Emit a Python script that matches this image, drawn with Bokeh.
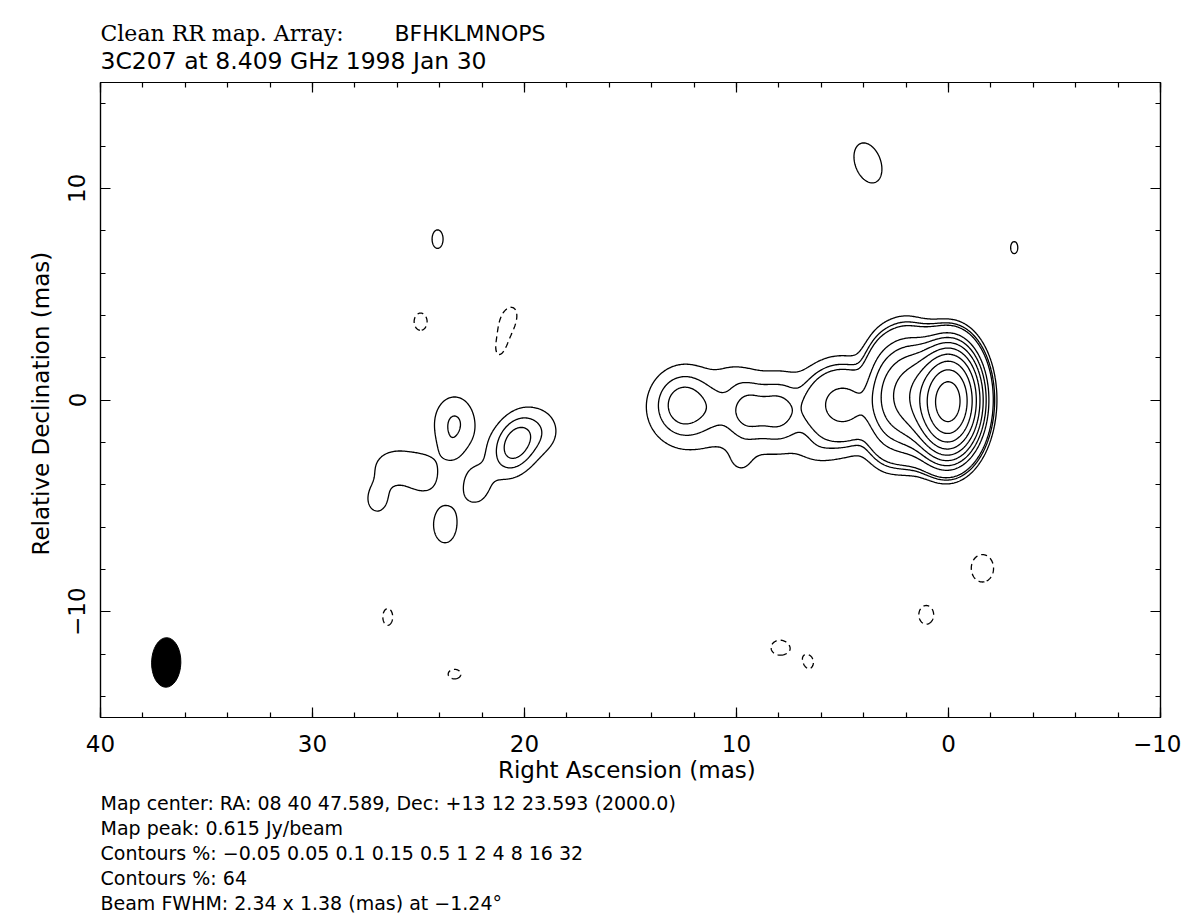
import numpy as np
from bokeh.plotting import figure
from bokeh.layouts import column
from bokeh.models import Range1d, LinearAxis, SingleIntervalTicker
from bokeh.core.properties import value
from bokeh.embed import file_html
from bokeh.resources import INLINE

# ---------------- data ----------------
TITLE_1A = "Clean RR map.  Array:"
TITLE_1B = "BFHKLMNOPS"
TITLE_2 = "3C207 at 8.409 GHz 1998 Jan 30"
FOOTER = [
    "Map center:  RA: 08 40 47.589,  Dec: +13 12 23.593 (2000.0)",
    "Map peak: 0.615 Jy/beam",
    "Contours %: \u22120.05 0.05 0.1 0.15 0.5 1 2 4 8 16 32",
    "Contours %: 64",
    "Beam FWHM: 2.34 x 1.38 (mas) at \u22121.24\u00b0",
]
X_LABEL = "Right Ascension  (mas)"
Y_LABEL = "Relative Declination  (mas)"

X_RANGE = (40, -10)
Y_RANGE = (-15, 15)
X_TICKS = [40, 30, 20, 10, 0, -10]
X_TICK_LABELS = ["40", "30", "20", "10", "0", "\u221210"]
Y_TICKS = [10, 0, -10]
Y_TICK_LABELS = ["10", "0", "\u221210"]

# contour levels, % of map peak
POS_LEVELS = [0.05, 0.1, 0.15, 0.5, 1, 2, 4, 8, 16, 32, 64]
NEG_LEVELS = [-0.05]

# restoring beam
BEAM_MAJ = 2.34
BEAM_MIN = 1.38
BEAM_PA = -1.24
BEAM_X = 36.9
BEAM_Y = -12.4

# brightness components of the map (mas, % of peak, FWHM mas, PA deg)
COMP_X = [0.0, 1.0, 2.0, 2.9, 5.0, 5.0, 9.4, 8.0, 9.5, 11.0, 12.5, 9.8, 10.3, 6.2,
          20.4, 18.9, 22.3, 23.3, 23.5, 26.0, 24.75, 26.95, 23.75,
          24.1, 3.8, -3.1,
          24.9, 20.7, 21.1, -1.6, 1.05, 7.95, 6.55, 26.45, 23.3]
COMP_Y = [-0.08, 0.1, 0.25, 0.1, -0.22, -0.3, -0.8, -0.5, -0.45, -0.4, -0.2, -2.9, 1.2, -2.3,
          -2.05, -1.5, -4.1, -1.1, -2.35, -3.15, -3.6, -4.75, -5.9,
          7.6, 11.2, 7.2,
          3.7, 3.95, 2.6, -7.95, -10.15, -11.7, -12.45, -10.25, -12.95]
COMP_AMP = [97.7, 8.5, 4.0, 1.5, 0.6, 0.10, 0.06, 0.11, 0.11, 0.02, 0.16, 0.03, 0.02, 0.025,
            0.19, 0.045, 0.07, 0.105, 0.025, 0.078, 0.06, 0.066, 0.075,
            0.055, 0.074, 0.052,
            -0.056, -0.052, -0.055, -0.065, -0.058, -0.058, -0.0505, -0.054, -0.055]
COMP_FX = [1.38, 1.4, 1.4, 1.3, 2.0, 3.0, 7.5, 1.6, 1.6, 1.2, 2.3, 1.0, 1.4, 1.5,
           1.7, 1.5, 1.4, 1.8, 0.9, 2.4, 1.3, 1.2, 1.4,
           1.38, 1.6, 1.38,
           1.5, 0.9, 1.1, 1.7, 1.5, 1.8, 1.0, 1.38, 1.6]
COMP_FY = [2.34, 2.6, 2.9, 3.0, 2.0, 3.6, 4.0, 2.4, 2.4, 1.6, 2.6, 1.2, 1.2, 1.2,
           2.5, 2.0, 1.9, 2.4, 1.4, 1.8, 1.5, 1.5, 2.2,
           2.34, 2.6, 2.34,
           2.0, 1.4, 2.4, 2.1, 1.9, 1.5, 1.4, 2.34, 1.2]
COMP_PA = [-1.24, 0, 0, 0, 0, 0, 0, 0, 0, 0, 0, 0, 0, 0,
           -25, 0, 0, 0, 0, 0, 0, 0, 0,
           0, 20, 0,
           0, -20, -15, 0, 0, 0, 0, 0, 0]

# ---------------- build the map ----------------
xs = np.linspace(-10, 40, 1001)
ys = np.linspace(-15, 15, 601)
XX, YY = np.meshgrid(xs, ys)
Z = np.zeros_like(XX)
k = 4.0 * np.log(2.0)
for cx, cy, a, fx, fy, pa in zip(COMP_X, COMP_Y, COMP_AMP, COMP_FX, COMP_FY, COMP_PA):
    t = np.deg2rad(pa)
    dx = XX - cx
    dy = YY - cy
    along = dx * np.sin(t) + dy * np.cos(t)
    across = dx * np.cos(t) - dy * np.sin(t)
    Z += a * np.exp(-k * (across ** 2 / fx ** 2 + along ** 2 / fy ** 2))
Z = Z / Z.max() * 100.0

# ---------------- layout (page pixels) ----------------
W = 1181
HEADER_H = 74
MAIN_H = 714
FOOTER_TOP = HEADER_H + MAIN_H
PAGE_H = 913
FRAME_L, FRAME_W, FRAME_H = 100, 1060, 635

FONT = "DejaVu Sans"
SERIF = "DejaVu Serif"


def text_panel(y0, y1):
    # frames of the column are aligned with the map frame, so x runs in page pixels
    f = figure(width=W, height=y1 - y0, output_backend="svg", toolbar_location=None,
               x_range=Range1d(FRAME_L, FRAME_L + FRAME_W), y_range=Range1d(y1, y0),
               x_axis_location=None, y_axis_location=None, min_border=0,
               min_border_left=FRAME_L, min_border_right=W - FRAME_L - FRAME_W)
    f.grid.visible = False
    f.outline_line_color = None
    return f


def put(f, text, px, py, font, size):
    f.text(x=[px], y=[py], text=[text], text_font=value(font), text_font_size=value(size),
           text_color="black", text_baseline="middle", text_align="left")


# header
head = text_panel(0, HEADER_H)
put(head, TITLE_1A, 100, 33, SERIF, "22px")
put(head, TITLE_1B, 394, 33, FONT, "22px")
put(head, TITLE_2, 100, 60, FONT, "23.5px")

# footer
foot = text_panel(FOOTER_TOP, PAGE_H)
for i, line in enumerate(FOOTER):
    put(foot, line, 100, 802 + 25 * i, FONT, "19px")

# main map
p = figure(width=W, height=MAIN_H, output_backend="svg", toolbar_location=None,
           x_range=Range1d(*X_RANGE), y_range=Range1d(*Y_RANGE),
           min_border_left=FRAME_L, min_border_right=W - FRAME_L - FRAME_W,
           min_border_top=8, min_border_bottom=MAIN_H - 8 - FRAME_H,
           background_fill_color="white", border_fill_color="white")
p.grid.visible = False
p.outline_line_color = "black"
p.outline_line_width = 1.2


def style_axis(ax, labels=True):
    ax.ticker = SingleIntervalTicker(interval=10, num_minor_ticks=5)
    ax.major_tick_in = 10
    ax.major_tick_out = 0
    ax.minor_tick_in = 5
    ax.minor_tick_out = 0
    ax.axis_line_color = "black"
    ax.axis_line_width = 1.2
    ax.major_tick_line_color = "black"
    ax.minor_tick_line_color = "black"
    ax.major_tick_line_width = 1.2
    ax.minor_tick_line_width = 1.2
    ax.major_label_text_font = FONT
    if labels:
        ax.major_label_text_color = "black"
        ax.major_label_text_font_size = "23px"
    else:
        ax.major_label_text_color = None
        ax.major_label_text_font_size = "1px"
        ax.major_label_standoff = 0


xa = p.xaxis[0]
style_axis(xa)
xa.major_label_overrides = dict(zip(X_TICKS, X_TICK_LABELS))
xa.major_label_standoff = 17
xa.axis_label = X_LABEL
xa.axis_label_text_font = FONT
xa.axis_label_text_font_size = "23px"
xa.axis_label_text_font_style = "normal"
xa.axis_label_text_color = "black"
xa.axis_label_standoff = 2

ya = p.yaxis[0]
style_axis(ya)
ya.major_label_overrides = dict(zip(Y_TICKS, Y_TICK_LABELS))
ya.major_label_orientation = "vertical"
ya.major_label_standoff = 15
ya.axis_label = Y_LABEL
ya.axis_label_text_font = FONT
ya.axis_label_text_font_size = "23px"
ya.axis_label_text_font_style = "normal"
ya.axis_label_text_color = "black"
ya.axis_label_standoff = 12

top = LinearAxis()
style_axis(top, labels=False)
p.add_layout(top, "above")
right = LinearAxis()
style_axis(right, labels=False)
p.add_layout(right, "right")

# contours
p.contour(XX, YY, Z, levels=POS_LEVELS, line_color="black", line_width=1.3)
p.contour(XX, YY, Z, levels=NEG_LEVELS, line_color="black", line_width=1.3, line_dash="6 4")

# beam
p.ellipse(x=[BEAM_X], y=[BEAM_Y], width=BEAM_MIN, height=BEAM_MAJ, angle=BEAM_PA,
          angle_units="deg", fill_color="black", line_color="black")

layout = column(head, p, foot, spacing=0)
open("out.html", "w").write(file_html(layout, INLINE))
